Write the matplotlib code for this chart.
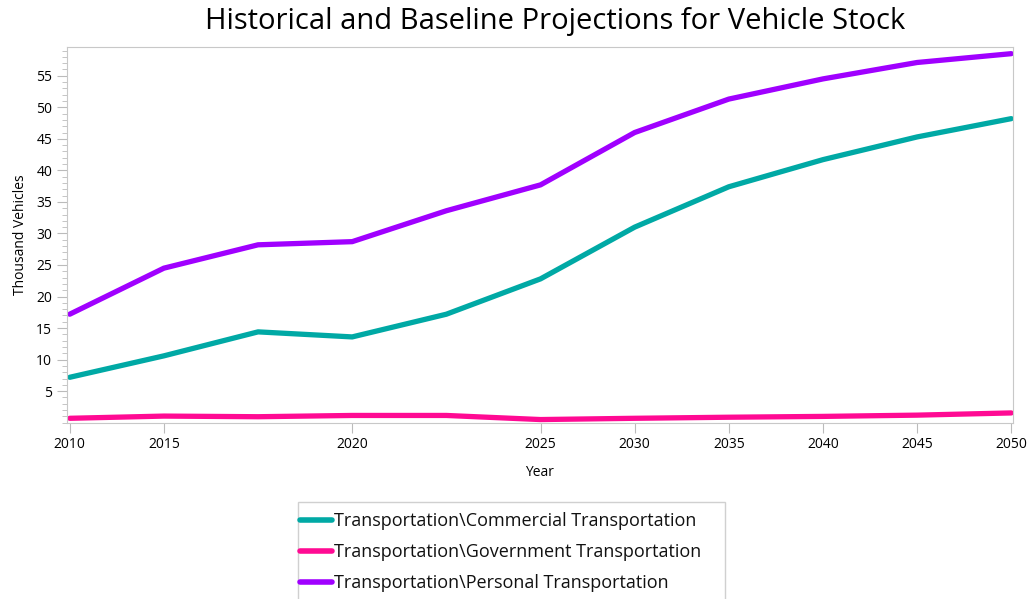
import matplotlib
matplotlib.use("Agg")
import matplotlib.pyplot as plt
from matplotlib.patches import Rectangle
from matplotlib.ticker import MultipleLocator

plt.rcParams['font.family'] = ['Open Sans', 'DejaVu Sans']

# categories (unlabelled points sit between labelled ticks)
years = ["2010", "2015", "2018", "2020", "2023", "2025", "2030", "2035", "2040", "2045", "2050"]
tick_years = ["2010", "2015", "2020", "2025", "2030", "2035", "2040", "2045", "2050"]

commercial = [7.2, 10.6, 14.4, 13.6, 17.2, 22.8, 31.0, 37.4, 41.7, 45.3, 48.2]
government = [0.7, 1.05, 0.95, 1.15, 1.15, 0.5, 0.7, 0.87, 1.0, 1.2, 1.55]
personal = [17.2, 24.5, 28.2, 28.7, 33.6, 37.7, 46.0, 51.3, 54.5, 57.1, 58.5]

series = [
    (r"Transportation\Commercial Transportation", commercial, "#00A9A5"),
    (r"Transportation\Government Transportation", government, "#FF0A93"),
    (r"Transportation\Personal Transportation", personal, "#A000FF"),
]

W, H = 1033, 599
fig = plt.figure(figsize=(W / 100, H / 100), dpi=100)
ax = fig.add_axes([0.0646, 0.2943, 0.916, 0.6277])

x = list(range(len(years)))
for name, vals, col in series:
    ax.plot(x, vals, color=col, lw=3.8, label=name, solid_capstyle='round', solid_joinstyle='round')

ax.set_xlim(-0.032, len(years) - 1 + 0.018)
ax.set_ylim(0, 59.6)
ax.set_xticks([years.index(y) for y in tick_years])
ax.set_xticklabels(tick_years, fontsize=10)
ax.yaxis.set_minor_locator(MultipleLocator(1))
ax.set_yticks([5, 10, 15, 20, 25, 30, 35, 40, 45, 50, 55])
ax.tick_params(axis='y', labelsize=10, color='#BBBBBB', length=7)
ax.tick_params(axis='y', which='minor', color='#BBBBBB', length=3.5)
ax.tick_params(axis='x', color='#BBBBBB', length=7)
for s in ax.spines.values():
    s.set_color('#C8C8C8')

ax.set_xlabel("Year", fontsize=10, labelpad=9)
ax.set_ylabel("Thousand Vehicles", fontsize=10, labelpad=6)
fig.text(555 / W, 1 - 22 / H, "Historical and Baseline Projections for Vehicle Stock",
         fontsize=21, ha='center', va='center')

# legend without frame; the box runs off the bottom edge like the original
leg = fig.legend(loc='upper left', bbox_to_anchor=(300 / W, 1 - 512 / H), fontsize=13,
                 handlelength=1.75, handletextpad=0.15, labelspacing=0.72, borderaxespad=0,
                 borderpad=0, frameon=False)
for line in leg.get_lines():
    line.set_linewidth(4)
for t in leg.get_texts():
    t.set_color('#111111')
fig.patches.append(Rectangle((298 / W, -0.05), (725 - 298) / W, 0.05 + 1 - 502 / H,
                             transform=fig.transFigure, fill=False, edgecolor='#D0D0D0', lw=1))

fig.savefig("out.png", dpi=100)
